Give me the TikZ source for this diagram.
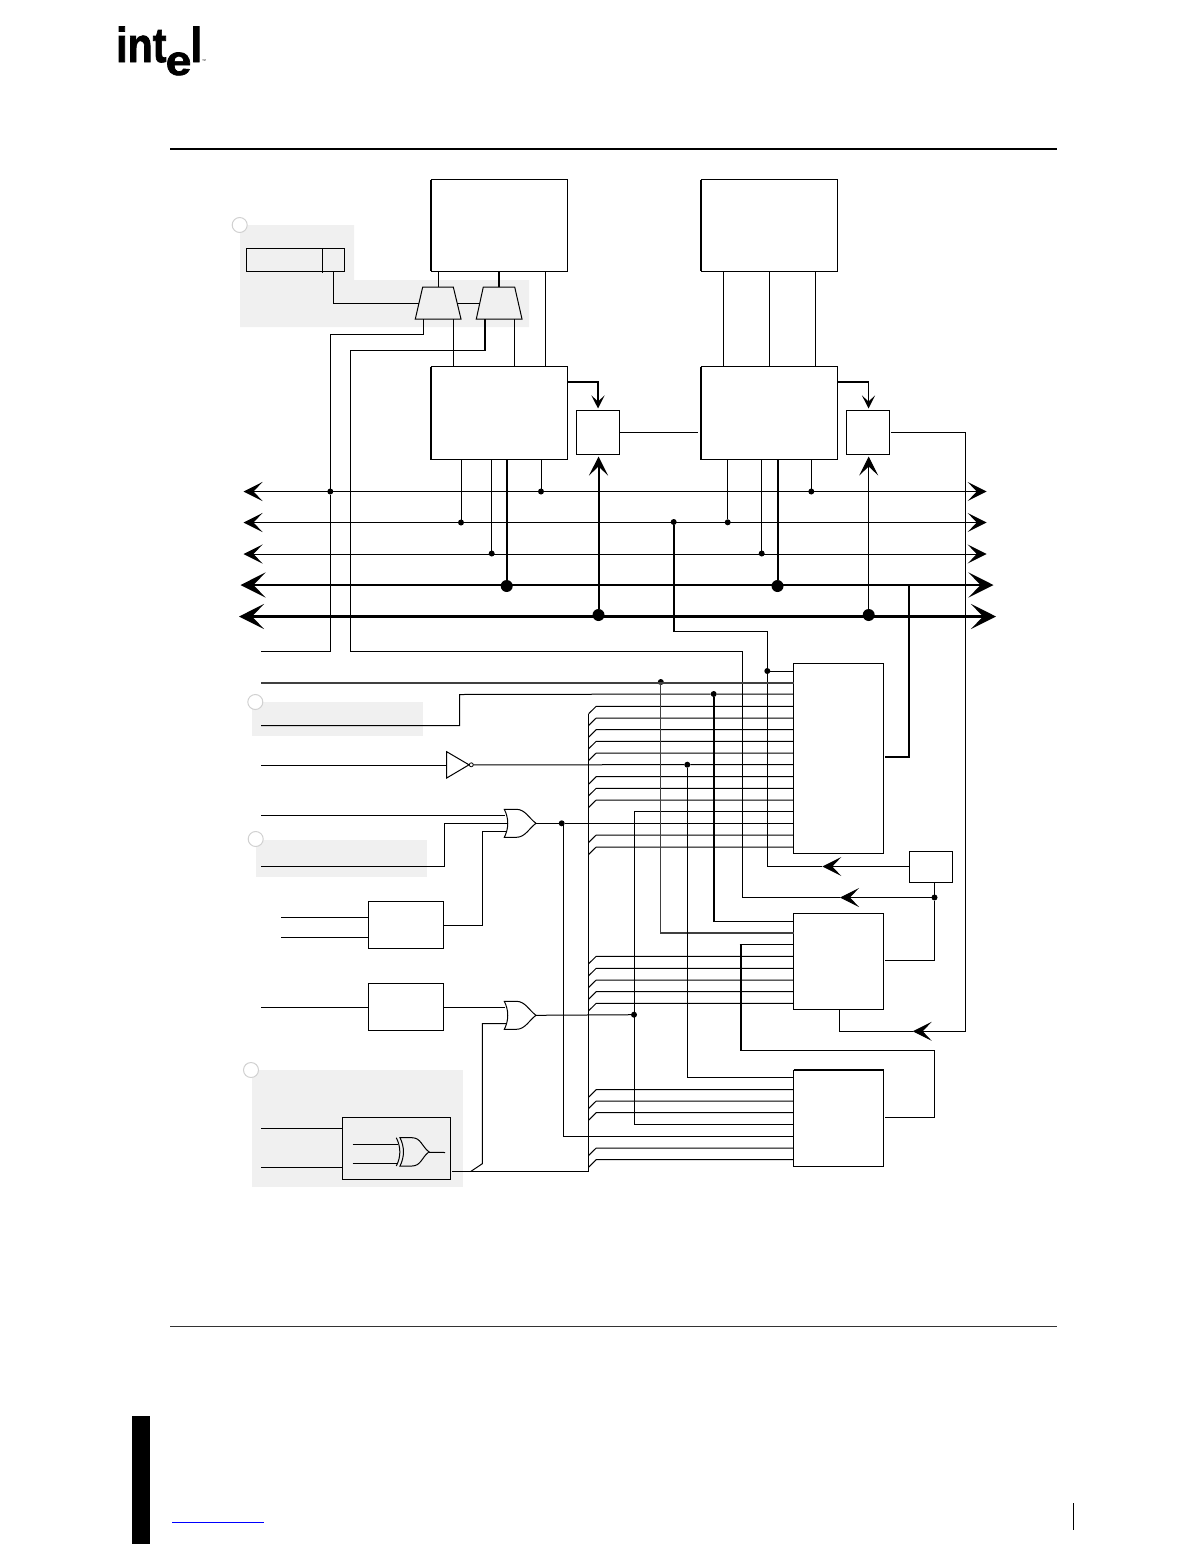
\documentclass[tikz,border=0pt]{standalone}
\usepackage{fontspec}
\newfontfamily\logofont{Liberation Sans Bold}[FakeBold=1.6]
\usetikzlibrary{arrows.meta,calc}
\tikzset{
 wire/.style={draw=black,line width=1pt,line cap=butt,line join=miter},
 fat/.style={wire,line width=2pt},
 bus/.style={wire,line width=2.6pt},
 busb/.style={wire,line width=3.6pt},
 blk/.style={draw=black,line width=1pt,inner sep=0pt,outer sep=0pt,rectangle},
 dotS/.style={circle,fill=black,inner sep=0pt,outer sep=0pt,minimum size=6pt},
 dotB/.style={circle,fill=black,inner sep=0pt,outer sep=0pt,minimum size=12pt},
 hl/.style={fill=black!6,draw=none},
 badge/.style={circle,draw=black!18,line width=1pt,fill=white,inner sep=0pt,outer sep=0pt,minimum size=15pt},
 hS/.style={-{Stealth[length=13pt,width=13pt,inset=6pt]}},
 hM/.style={-{Stealth[length=19pt,width=19pt,inset=9pt]}},
 hB/.style={-{Stealth[length=25pt,width=25pt,inset=12pt]}},
 gate/.style={draw=black,line width=1pt,line join=miter},
}
\newcommand{\blockat}[5]{\node[blk,minimum width={(#4-#2)*1pt},minimum height={(#5-#3)*1pt}] (#1) at ({(#2+#4)/2},{(#3+#5)/2}) {};}
\newcommand{\orshape}[4]{% back x, top y, bottom y, tip x
 \draw[gate] (#1,#2) -- ({#1+12},#2) .. controls ({#1+21},#2) and ({#4-7},{(#2+#3)/2-5}) .. (#4,{(#2+#3)/2})
  .. controls ({#4-7},{(#2+#3)/2+5}) and ({#1+21},#3) .. ({#1+12},#3) -- (#1,#3)
  .. controls ({#1+4.6},{(#2+#3)/2+5}) and ({#1+4.6},{(#2+#3)/2-5}) .. (#1,#2) -- cycle;}
\begin{document}
\begin{tikzpicture}[x=1pt,y=-1pt]
\useasboundingbox (0,0) rectangle (1198,1566);

% logo
\node[anchor=base west,inner sep=0pt,xscale=.84,transform shape] (logoint) at (116,62) {\logofont\fontsize{49}{49}\selectfont int};
\node[anchor=base west,inner sep=0pt,xscale=1.1,transform shape] (logoe) at (165.5,75) {\logofont\fontsize{42}{42}\selectfont e};
\node[anchor=base west,inner sep=0pt,xscale=.84,transform shape] (logol) at (190.5,62) {\logofont\fontsize{49}{49}\selectfont l};
\node[anchor=base west,inner sep=0pt] (logotm) at (202,62) {\fontspec{Liberation Sans}\fontsize{4}{4}\selectfont ™};

% page furniture
\coordinate (rt1) at (170,149); \coordinate (rt2) at (1057,149);
\draw[wire,line width=1.6pt] (rt1) -- (rt2);
\coordinate (rb1) at (170,1326); \coordinate (rb2) at (1057,1326);
\draw[wire,line width=.8pt,draw=black!80] (rb1) -- (rb2);
\fill[black] (132,1416) rectangle (150,1544);
\coordinate (lnk1) at (172,1522.5); \coordinate (lnk2) at (264,1522.5);
\draw[wire,draw=blue] (lnk1) -- (lnk2);
\coordinate (pg1) at (1073,1503); \coordinate (pg2) at (1073,1530);
\draw[wire] (pg1) -- (pg2);

% highlighted regions
\fill[hl] (240,225) -- (354,225) -- (354,280) -- (529,280) -- (529,327) -- (240,327) -- cycle;
\fill[hl] (252,702) rectangle (423,736);
\fill[hl] (256,840) rectangle (427,877);
\fill[hl] (252,1070) rectangle (463,1187);
\node[badge] (b1) at (239.7,225) {};
\node[badge] (b2) at (255.3,702) {};
\node[badge] (b3) at (255.7,839) {};
\node[badge] (b4) at (251,1070) {};

% blocks
\blockat{A}{431}{179.7}{567.3}{271}
\blockat{B}{701}{179.7}{837.3}{271}
\draw[wire,line width=1.6pt] (431,179.7) -- (431,271);
\draw[wire,line width=1.6pt] (701,179.7) -- (701,271);
\blockat{C}{431}{366.5}{567.3}{459.5}
\blockat{E}{701}{366.5}{837.3}{459.5}
\draw[fat] (431,366.5) -- (431,459.5);
\draw[fat] (701,366.5) -- (701,459.5);
\blockat{D}{576.5}{410.5}{619.5}{454.5}
\blockat{F}{846.5}{410.5}{889.5}{454.5}
\blockat{reg}{246.5}{248.5}{344.5}{271.5}
\coordinate (regdivT) at (322.5,248.5); \coordinate (regdivB) at (322.5,272.5);
\draw[wire] (regdivT) -- (regdivB);
\blockat{H}{793.5}{663.5}{883.7}{853.5}
\blockat{G}{909.5}{851.5}{952.7}{882.5}
\blockat{I}{793.5}{913.5}{883.7}{1009.5}
\blockat{J}{793.5}{1070}{883.7}{1166.5}
\draw[fat] (793.5,1070) -- (883.7,1070);
\blockat{K}{368.5}{901.5}{443.5}{948.5}
\blockat{L}{368.5}{983.5}{443.5}{1030.5}
\blockat{M}{342.5}{1117.5}{450.7}{1179.5}

% muxes
\draw[gate] (422.7,287) -- (453.3,287) -- (461,319) -- (415.3,319) -- cycle;
\draw[gate] (483.3,287) -- (514.7,287) -- (522,319) -- (476.3,319) -- cycle;
\coordinate (m1l) at (419,303.5); \coordinate (m1r) at (457.2,303.5);
\coordinate (m2l) at (479.8,303.5);
\coordinate (m1t) at (438.5,287); \coordinate (m2t) at (499,287);
\coordinate (m1a) at (423.5,319); \coordinate (m1b) at (453.5,319);
\coordinate (m2a) at (485,319); \coordinate (m2b) at (514.5,319);

% logic gates
\draw[gate] (446.7,751.7) -- (469,764.8) -- (446.7,778) -- cycle;
\node[circle,draw=black,line width=.8pt,inner sep=0pt,outer sep=0pt,minimum size=4pt] (inv) at (471.3,764.8) {};
\orshape{504.3}{809.3}{837.3}{536}
\orshape{504.3}{1001.3}{1029.3}{536}
\orshape{400}{1137.7}{1166}{429}
\coordinate (xa) at (396.3,1137.7); \coordinate (xb) at (396.3,1166);
\draw[gate] (xa) .. controls (401,1147) and (401,1157) .. (xb);
\coordinate (or1o) at (536,823.3); \coordinate (or2o) at (536,1015.3);
\coordinate (xo) at (429,1152.3);

% bus endpoints
\coordinate (b1L) at (243.5,491.5); \coordinate (b1R) at (986.7,491.5);
\coordinate (b2L) at (243.5,522.5); \coordinate (b2R) at (986.7,522.5);
\coordinate (b3L) at (243.5,554);   \coordinate (b3R) at (986.7,554);
\coordinate (b4L) at (240.5,585);   \coordinate (b4R) at (993.5,585);
\coordinate (b5L) at (239,616.5);   \coordinate (b5R) at (996,616.5);
\draw[wire,hM] (500,491.5) -- (b1L); \draw[wire,hM] (500,491.5) -- (b1R);
\draw[wire,hM] (500,522.5) -- (b2L); \draw[wire,hM] (500,522.5) -- (b2R);
\draw[wire,hM] (500,554) -- (b3L);   \draw[wire,hM] (500,554) -- (b3R);
\draw[bus,hB] (500,585) -- (b4L);    \draw[bus,hB] (500,585) -- (b4R);
\draw[busb,hB] (500,616.5) -- (b5L); \draw[busb,hB] (500,616.5) -- (b5R);

% bus taps
\node[dotS] (t11) at (330.3,491.5) {};
\node[dotS] (t12) at (541,491.5) {};
\node[dotS] (t13) at (811.3,491.5) {};
\node[dotS] (t21) at (461,522.5) {};
\node[dotS] (t22) at (673.7,522) {};
\node[dotS] (t23) at (727.7,522.3) {};
\node[dotS] (t31) at (491.7,553.5) {};
\node[dotS] (t32) at (761.7,553.5) {};
\node[dotB] (t41) at (506.7,586) {};
\node[dotB] (t42) at (777.5,586) {};
\node[dotB] (t51) at (598.5,615) {};
\node[dotB] (t52) at (868.7,615) {};
\draw[wire] (t21) -- (t21 |- C.south);
\draw[wire] (t31) -- (t31 |- C.south);
\draw[fat]  (t41) -- (t41 |- C.south);
\draw[wire] (t12) -- (t12 |- C.south);
\draw[wire] (t23) -- (t23 |- E.south);
\draw[wire] (t32) -- (t32 |- E.south);
\draw[fat]  (t42) -- (t42 |- E.south);
\draw[wire] (t13) -- (t13 |- E.south);
\coordinate (Din) at (598.5,456.5); \coordinate (Fin) at (868.7,456.5);
\draw[fat,hM] (t51) -- (Din);
\draw[wire,hM] (t52) -- (Fin);

% top-area connectors
\draw[wire] (A.south -| m1t) -- (m1t);
\draw[fat] (A.south -| m2t) -- (m2t);
\coordinate (Ar) at (545,271);
\draw[wire] (Ar) -- (Ar |- C.north);
\foreach \x in {723.5,769.5,815.5}{\draw[wire] (\x,271) -- (\x,366.5);}
\draw[wire] (m1b) -- (m1b |- C.north);
\draw[wire] (m2b) -- (m2b |- C.north);
\coordinate (regout) at (333.5,271.5);
\draw[wire] (regout) |- (m1l);
\draw[wire] (m1r) -- (m2l);

\coordinate (in1) at (261,651.5);
\draw[wire] (m1a) |- (330.3,334.5) -- (t11) -- (330.3,651.5) -- (in1);

\coordinate (sel) at (934.5,897.5);
\node[dotS] (seld) at (sel) {};
\coordinate (m2c) at (485,350.5);
\draw[fat] (m2a) -- (m2c);
\coordinate (arr1) at (840,897.5);
\draw[wire,hM] (seld) -- (arr1);
\draw[wire] (m2c) -- (350.5,350.5) -- (350.5,651.5) -- (742.5,651.5) -- (742.5,897.5) -- (arr1);

% block to comparator
\coordinate (Cout) at (567.3,381.7); \coordinate (Dtop) at (598,408.5);
\draw[fat,hS] (Cout) -| (Dtop);
\coordinate (Eout) at (837.3,382); \coordinate (Ekn) at (868.5,382); \coordinate (Ftop) at (868.5,408.5);
\draw[fat] (Eout) -- (Ekn);
\draw[wire,hS] (Ekn) -- (Ftop);
\coordinate (Dr) at (619.5,432.5); \coordinate (Er) at (697.5,432.5);
\draw[wire] (Dr) -- (Er);

% F to I feedback
\coordinate (Fr) at (891,432.5); \coordinate (Ia) at (912.7,1031.3);
\draw[wire,hM] (Fr) -- (965.5,432.5) -- (965.5,1031.3) -- (Ia);
\coordinate (Ib) at (839.3,1009.5);
\draw[wire] (Ia) -- (839.3,1031.3) -- (Ib);

% bus 4 to H
\coordinate (b4t) at (908.5,585); \coordinate (Hr) at (885,757);
\draw[fat] (b4t) -- (908.5,757) -- (Hr);

% bus 2 tap to G/H
\coordinate (kn) at (673.7,631.5);
\draw[fat] (t22) -- (kn);
\node[dotS] (h1) at (767.3,671) {};
\coordinate (arr2) at (822.3,866.5);
\coordinate (Gl) at (908.5,866.5);
\draw[wire,hM] (Gl) -- (arr2);
\draw[wire] (kn) -| (h1);
\draw[wire] (h1) |- (arr2);
\draw[wire] (h1) -- (h1 -| H.west);

% left inputs to H
\node[dotS] (h2) at (660.8,682) {};
\node[dotS] (h3) at (713.7,694) {};
\node[dotS] (h4) at (687.3,764.7) {};
\coordinate (i2) at (261,683);
\draw[wire,line width=1.2pt,draw=black!75] (i2) -- (h2.center |- i2) -- (H.west |- i2);
\coordinate (i3) at (261,725.5);
\draw[wire] (i3) -- (459.5,725.5) -- (459.5,694.5) -- (h3) -- (h3 -| H.west);
\coordinate (i4) at (261,765.5); \coordinate (inv1) at (446.7,765.5);
\draw[wire] (i4) -- (inv1);
\draw[wire] (inv) -- (h4) -- (h4 -| H.west);
\coordinate (i5) at (261,815.5); \coordinate (or1a) at (505,815.5);
\draw[wire] (i5) -- (or1a);
\coordinate (i6) at (261,866.5); \coordinate (or1b) at (507.5,823.5);
\draw[wire] (i6) -- (444.3,866.5) -- (444.3,823.5) -- (or1b);
\coordinate (Kout) at (443.5,925.5); \coordinate (or1c) at (506,831.7);
\draw[wire] (Kout) -- (482.3,925.5) -- (482.3,831.7) -- (or1c);
\coordinate (Lout) at (443.5,1007.5); \coordinate (or2a) at (505,1007.5);
\draw[wire] (Lout) -- (or2a);
\foreach \y in {917.5,937.5}{\draw[wire] (281,\y) -- (K.west |- 0,\y);}
\draw[wire] (261,1007.5) -- (L.west |- 0,1007.5);
\draw[wire] (261,1128.5) -- (M.west |- 0,1128.5);
\draw[wire] (261,1167.5) -- (M.west |- 0,1167.5);
\draw[wire] (352.7,1144.5) -- (397.5,1144.5);
\draw[wire] (352.7,1163.5) -- (397.5,1163.5);
\coordinate (xe) at (445,1152.5);
\draw[wire] (xo) -- (xe);

% or1 output
\node[dotS] (h5) at (561.7,823.3) {};
\draw[wire] (or1o) -- (h5) -- (h5 -| H.west);
\draw[wire] (563.3,823.3) -- (563.3,1136.5) -- (J.west |- 0,1136.5);

% or2 output and its fan-out
\node[dotS] (h6) at (634,1014.7) {};
\draw[wire] (or2o) -- (h6);
\draw[wire] (634,811.7) -- (634,1124.5) -- (J.west |- 0,1124.5);
\draw[wire] (634,811.7) -- (H.west |- 0,811.7);

% xor output: fan bus
\coordinate (mout) at (451.7,1171.3);
\coordinate (fanb) at (588.7,1171.3);
\coordinate (fant) at (588.7,713.7);
\draw[wire] (mout) -- (fanb) -- (fant);
\coordinate (xj) at (471,1171.3);
\coordinate (or2b) at (506.5,1023.5);
\draw[wire] (xj) -- (482.3,1163.7) -- (482.3,1023.5) -- (or2b);

% fan lines
\foreach \y in {706.3,718,729.7,741.3,753,776.7,788.3,800,835,847}
 {\draw[wire] (588.7,{\y+7.4}) -- (596.2,\y) -- (H.west |- 0,\y);}
\foreach \y in {956.3,968.3,980,991.7,1003.3}
 {\draw[wire] (588.7,{\y+7.4}) -- (596.2,\y) -- (I.west |- 0,\y);}
\foreach \y in {1089.7,1101,1112.7,1148,1159.7}
 {\draw[wire] (588.7,{\y+7.4}) -- (596.2,\y) -- (J.west |- 0,\y);}

% tap verticals into I and J
\draw[fat] (h3) -- (713.7,921.5);
\draw[wire] (713.7,921.5) -- (I.west |- 0,921.5);
\draw[wire,line width=1.3pt,draw=black!75] (660.8,683) -- (660.8,933) -- (I.west |- 0,933);
\draw[wire] (h4) -- (687.3,1077.5) -- (J.west |- 0,1077.5);

% I, J and G outputs
\coordinate (Ir) at (885,960.5);
\draw[wire] (Ir) -| (seld);
\draw[wire] (seld) -- (G.south -| seld);
\coordinate (Jr) at (885,1117.5);
\coordinate (jk) at (740.7,1050.5);
\draw[wire] (Jr) -- (934.5,1117.5) -- (934.5,1050.5) -- (jk);
\draw[fat] (jk) -- (740.7,944.3);
\draw[wire] (739.7,944.3) -- (I.west |- 0,944.3);
\end{tikzpicture}
\end{document}
